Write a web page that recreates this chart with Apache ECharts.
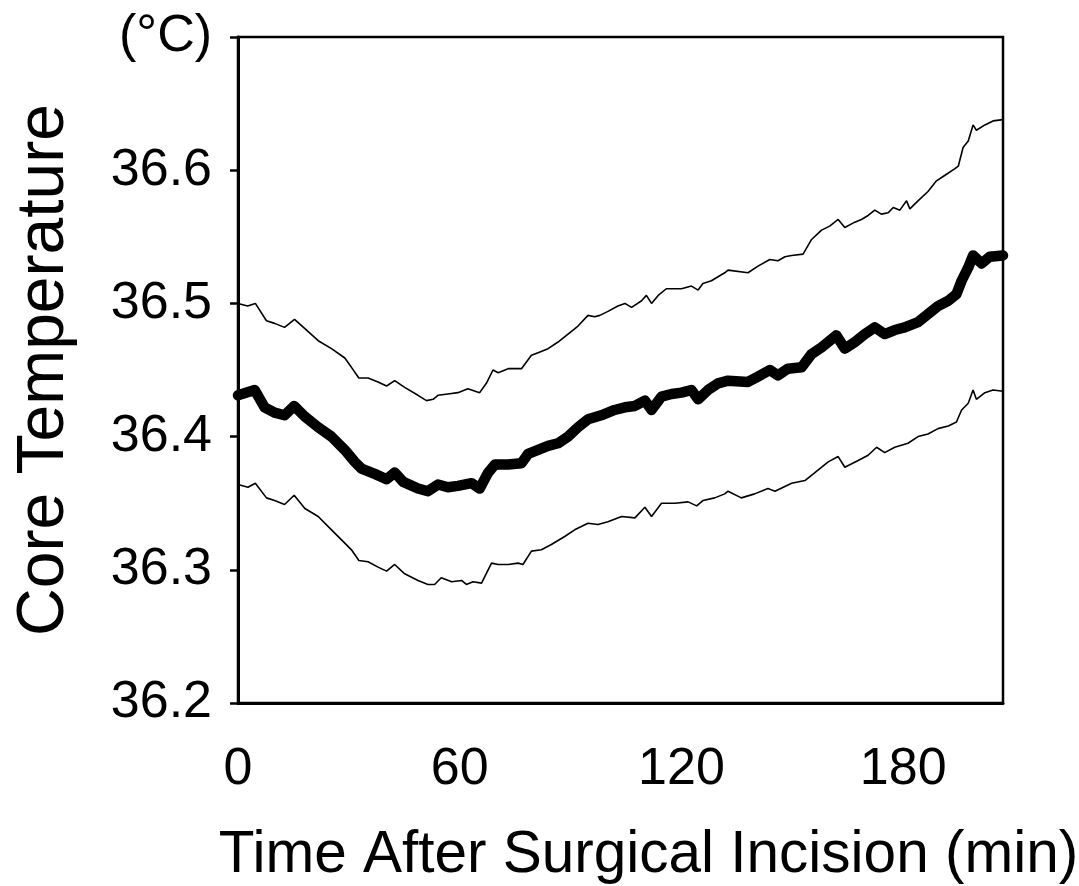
<!DOCTYPE html>
<html>
<head>
<meta charset="utf-8">
<title>Core Temperature</title>
<script src="https://cdn.jsdelivr.net/npm/echarts@6/dist/echarts.min.js"></script>
<style>
  html, body { margin: 0; padding: 0; background: #fff; }
  #chart { width: 1079px; height: 886px; }
</style>
</head>
<body>
<div id="chart"></div>
<script>
// x ticks (min) and y ticks (°C)
var xTicks = [0, 60, 120, 180];
var yTicks = [36.2, 36.3, 36.4, 36.5, 36.6, 36.7];

// upper band (mean + SD)
var upperTime = [0, 2.6, 4.7, 7.7, 9.9, 12.6, 15.3, 18.1, 21.7, 25.3, 28.9, 30.7, 32.7, 35.2, 37.9, 40.2, 42.4, 45.1,
  48.7, 51.0, 52.8, 54.1, 56.8, 59.5, 62.2, 65.4, 67.2, 69.0, 70.4, 73.1, 76.7, 79.4, 81.2, 83.9, 86.6, 89.3, 92.0,
  94.7, 96.5, 97.9, 100.1, 102.8, 104.7, 106.5, 109.2, 110.5, 111.9, 113.7, 115.9, 120.0, 122.7, 124.5, 125.8, 128.1,
  131.7, 132.6, 138.0, 140.7, 143.9, 146.1, 148.0, 149.8, 152.9, 155.2, 157.9, 160.1, 162.4, 164.2, 166.9, 168.7,
  170.5, 172.3, 174.1, 175.9, 177.3, 179.1, 180.9, 181.8, 184.0, 186.7, 189.0, 191.2, 193.9, 194.9, 196.2, 197.6,
  198.9, 199.8, 202.1, 204.3, 207.0];
var upperTemp = [36.500, 36.498, 36.500, 36.487, 36.485, 36.482, 36.488, 36.481, 36.472, 36.466, 36.459, 36.452, 36.444,
  36.444, 36.441, 36.438, 36.442, 36.437, 36.431, 36.427, 36.428, 36.431, 36.432, 36.433, 36.436, 36.433, 36.440,
  36.450, 36.448, 36.451, 36.451, 36.461, 36.463, 36.466, 36.471, 36.477, 36.483, 36.491, 36.490, 36.491, 36.494,
  36.498, 36.500, 36.497, 36.502, 36.506, 36.500, 36.506, 36.511, 36.511, 36.513, 36.510, 36.515, 36.517, 36.523,
  36.525, 36.523, 36.528, 36.533, 36.532, 36.535, 36.536, 36.537, 36.548, 36.555, 36.558, 36.563, 36.557, 36.561,
  36.563, 36.566, 36.570, 36.567, 36.568, 36.572, 36.570, 36.577, 36.571, 36.577, 36.584, 36.592, 36.596, 36.601,
  36.603, 36.617, 36.622, 36.634, 36.630, 36.634, 36.637, 36.638];

// mean
var meanTime = [0, 4.5, 7.2, 9.9, 12.6, 15.2, 18.1, 21.7, 25.3, 28.9, 31.6, 33.4, 37.0, 40.2, 42.4, 44.7, 48.7, 51.4,
  54.1, 56.8, 59.5, 63.2, 65.4, 67.7, 69.5, 73.1, 76.7, 78.5, 81.2, 83.9, 86.6, 89.3, 92.0, 94.7, 98.3, 101.9, 104.7,
  107.4, 110.1, 111.9, 114.6, 117.3, 120.0, 122.7, 124.5, 127.2, 129.9, 132.6, 138.0, 140.7, 143.9, 146.1, 148.8,
  152.5, 155.2, 157.9, 161.9, 164.2, 166.9, 169.6, 172.3, 175.0, 177.7, 180.4, 184.0, 186.7, 189.4, 192.2, 194.4,
  195.8, 197.6, 198.9, 201.2, 203.4, 207.0];
var meanTemp = [36.431, 36.435, 36.422, 36.418, 36.416, 36.423, 36.415, 36.407, 36.400, 36.390, 36.381, 36.376, 36.372,
  36.368, 36.373, 36.366, 36.361, 36.359, 36.364, 36.362, 36.363, 36.365, 36.361, 36.373, 36.379, 36.379, 36.380,
  36.387, 36.390, 36.393, 36.395, 36.400, 36.407, 36.413, 36.416, 36.420, 36.422, 36.423, 36.427, 36.420, 36.430,
  36.432, 36.433, 36.435, 36.428, 36.435, 36.440, 36.442, 36.441, 36.445, 36.450, 36.446, 36.451, 36.452, 36.462,
  36.467, 36.476, 36.466, 36.471, 36.477, 36.482, 36.477, 36.480, 36.482, 36.486, 36.492, 36.498, 36.502, 36.507,
  36.517, 36.527, 36.536, 36.530, 36.535, 36.536];

// lower band (mean - SD)
var lowerTime = [0, 2.7, 4.7, 7.7, 9.9, 12.6, 15.2, 18.1, 21.7, 25.3, 28.9, 30.7, 32.7, 35.2, 37.9, 40.2, 42.4, 45.1,
  48.7, 51.4, 53.2, 55.0, 57.8, 60.5, 61.8, 63.6, 65.9, 68.6, 70.4, 73.1, 75.8, 77.1, 79.4, 82.1, 84.8, 88.4, 91.1,
  94.7, 97.4, 100.1, 103.8, 107.4, 110.1, 111.9, 114.6, 118.2, 121.8, 124.1, 125.8, 129.0, 131.7, 132.6, 136.2,
  139.8, 143.4, 145.3, 149.8, 153.4, 156.1, 159.7, 162.4, 164.2, 167.8, 170.5, 172.8, 175.0, 177.7, 181.3, 184.0,
  186.7, 189.4, 192.2, 194.4, 195.8, 197.6, 198.9, 199.8, 202.1, 204.3, 207.0];
var lowerTemp = [36.364, 36.362, 36.365, 36.354, 36.352, 36.349, 36.356, 36.346, 36.340, 36.330, 36.320, 36.315, 36.307,
  36.306, 36.302, 36.299, 36.304, 36.297, 36.292, 36.289, 36.289, 36.294, 36.291, 36.292, 36.289, 36.291, 36.290,
  36.305, 36.304, 36.304, 36.305, 36.304, 36.314, 36.315, 36.319, 36.325, 36.330, 36.335, 36.334, 36.336, 36.340,
  36.339, 36.347, 36.340, 36.350, 36.350, 36.351, 36.348, 36.352, 36.354, 36.357, 36.359, 36.354, 36.357, 36.361,
  36.359, 36.365, 36.367, 36.373, 36.381, 36.385, 36.377, 36.382, 36.386, 36.392, 36.388, 36.392, 36.395, 36.400,
  36.402, 36.406, 36.408, 36.411, 36.420, 36.425, 36.435, 36.428, 36.433, 36.435, 36.434];

function pairs(xs, ys) {
  var out = [];
  for (var i = 0; i < xs.length; i++) {
    out.push([xs[i], ys[i]]);
  }
  return out;
}

var font = '"Liberation Sans", Arial, Helvetica, sans-serif';

var chart = echarts.init(document.getElementById('chart'), null, { renderer: 'canvas' });

var option = {
  animation: false,
  backgroundColor: '#fff',
  grid: {
    left: 238,
    right: 76,
    top: 37,
    bottom: 183,
    containLabel: false,
    outerBoundsMode: 'none',
    show: true,
    borderColor: '#000',
    borderWidth: 2.5
  },
  xAxis: {
    type: 'value',
    min: xTicks[0],
    max: 207,
    interval: 60,
    name: 'Time After Surgical Incision (min)',
    nameLocation: 'middle',
    nameGap: 123,
    nameTextStyle: { fontFamily: font, fontSize: 58.5, color: '#000', padding: [0, 0, 0, 56] },
    axisLine: { show: true, lineStyle: { color: '#000', width: 3 } },
    axisTick: { show: false },
    splitLine: { show: false },
    axisLabel: {
      margin: 41,
      fontFamily: font,
      fontSize: 52,
      color: '#000',
      showMaxLabel: false,
      formatter: function (v) {
        return xTicks.indexOf(v) >= 0 ? String(v) : '';
      }
    }
  },
  yAxis: {
    type: 'value',
    min: yTicks[0],
    max: yTicks[yTicks.length - 1],
    interval: 0.1,
    name: 'Core Temperature',
    nameLocation: 'middle',
    nameRotate: 90,
    nameGap: 160,
    nameTextStyle: { fontFamily: font, fontSize: 66, color: '#000' },
    axisLine: { show: true, lineStyle: { color: '#000', width: 3 } },
    axisTick: { show: true, inside: false, length: 8, lineStyle: { color: '#000', width: 2.5 } },
    splitLine: { show: false },
    axisLabel: {
      margin: 26,
      fontFamily: font,
      fontSize: 52,
      color: '#000',
      formatter: function (v) {
        if (Math.abs(v - 36.7) < 1e-6) return '(°C)';
        return v.toFixed(1);
      }
    }
  },
  series: [
    {
      name: 'upper',
      type: 'line',
      data: pairs(upperTime, upperTemp),
      showSymbol: false,
      lineStyle: { color: '#000', width: 1.6 },
      z: 3
    },
    {
      name: 'mean',
      type: 'line',
      data: pairs(meanTime, meanTemp),
      showSymbol: false,
      lineStyle: { color: '#000', width: 10.5, cap: 'round', join: 'round' },
      z: 4
    },
    {
      name: 'lower',
      type: 'line',
      data: pairs(lowerTime, lowerTemp),
      showSymbol: false,
      lineStyle: { color: '#000', width: 1.6 },
      z: 3
    }
  ]
};

chart.setOption(option);
</script>
</body>
</html>
